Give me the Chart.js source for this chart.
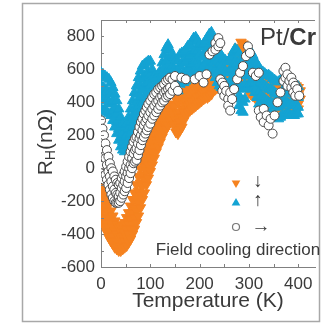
<!DOCTYPE html>
<html>
<head>
<meta charset="utf-8">
<script src="https://cdn.jsdelivr.net/npm/chart.js@4.4.0/dist/chart.umd.min.js"></script>
<style>
  html, body { margin: 0; padding: 0; background: #fff; }
  canvas { display: block; }
</style>
</head>
<body>
<canvas id="c" width="322" height="324"></canvas>
<script>
// Hall resistance R_H (nΩ) vs temperature (K) for Pt/Cr.
// Each temperature carries a small cluster of readings (the bands are noisy).

const xTicks = [0, 100, 200, 300, 400];
const yTicks = [-600, -400, -200, 0, 200, 400, 600, 800];

// field cooling ↓ (orange, down triangles)
const downT = [0,4,8,12,16,20,24,28,32,36,40,44,48,52,56,60,64,68,72,76,80,84,88,92,96,100,104,108,112,116,120,124,128,132,136,140,144,148,152,156,160,164,168,172,176,180,184,188,192,196,200,204,208,212,216,220,224,228,232,236,240,244,248,252,256,260,264,268,272,276,280,284,288,292,296,300,304,308,312,316,320,324,328,332,336,340,344,348,352,356,360,364,368,372,376,380,384,388,392,396,400,404];
const downV = [
  [-70,-150,-230,-300],[-110,-190,-260,-330],[-150,-230,-300,-360],[-190,-260,-330,-390],[-220,-300,-360,-420],[-260,-330,-390,-440],[-290,-360,-410,-460],[-320,-380,-440,-480],[-340,-400,-450,-490],[-360,-420,-460,-500],
  [-360,-420,-470,-500],[-350,-410,-460,-490],[-330,-390,-440,-480],[-300,-370,-420,-470],[-270,-340,-400,-450],[-230,-310,-370,-430],[-190,-270,-340,-400],[-150,-240,-300,-370],[-100,-190,-260,-330],[-50,-140,-210,-290],
  [0,-90,-160,-240],[50,-40,-110,-190],[100,10,-70,-150],[140,50,-20,-100],[180,90,20,-60],[210,130,60,-20],[250,160,100,20],[280,200,130,60],[310,230,170,100],[340,260,200,130],
  [360,290,230,160],[390,310,250,190],[400,330,280,220],[420,350,300,240],[440,370,320,260],[450,380,340,280],[460,390,350,290],[450,380,320,260],[420,340,290,220],[400,330,270,210],
  [410,340,280,230],[430,360,310,250],[450,390,340,290],[470,410,360,320],[490,430,380,340],[500,440,390,350],[510,450,400,360],[515,460,410,370],[525,470,420,380],[535,480,430,390],
  [550,490,440,400],[560,500,450,410],[570,510,460,420],[580,520,470,430],[590,530,480,430],[600,540,490,440],[615,550,500,450],[630,570,510,470],[640,580,520,480],[645,590,530,490],
  [650,590,540,490],[650,590,540,490],[640,580,530,490],[630,570,520,480],[630,570,520,480],[640,580,530,490],[660,600,550,500],[680,620,560,510],[690,630,570,520],[705,640,580,530],
  [735,670,600,550],[765,690,620,570],[755,680,610,560],[720,650,580,520],[665,600,540,490],[630,570,510,460],[605,550,490,450],[590,530,480,440],[580,520,470,430],[570,510,460,420],
  [560,500,450,410],[550,490,440,400],[535,480,430,390],[530,470,420,390],[540,480,430,390],[545,490,440,400],[540,480,430,390],[530,470,420,390],[530,470,420,380],[520,460,410,380],
  [520,460,410,370],[520,460,410,370],[525,460,410,380],[530,470,420,380],[530,470,420,380],[520,460,410,380],[520,460,410,370],[510,450,400,370],[510,450,400,360],[500,440,390,360],
  [490,440,390,360],[470,420]
];

// field cooling ↑ (blue, up triangles)
const upT = [0,4,8,12,16,20,24,28,32,36,40,44,48,52,56,60,64,68,72,76,80,84,88,92,96,100,104,108,112,116,120,124,128,132,136,140,144,148,152,156,160,164,168,172,176,180,184,188,192,196,200,204,208,212,216,220,224,228,232,236,240,244,248,252,256,260,264,268,272,276,280,284,288,292,296,300,304,308,312,316,320,324,328,332,336,340,344,348,352,356,360,364,368,372,376,380,384,388,392,396,400];
const upV = [
  [580,500,430,360],[570,490,420,350],[560,480,420,350],[550,470,410,340],[540,460,400,330],[520,450,390,320],[490,410,350,290],[450,370,320,250],[410,330,280,210],[360,290,240,170],
  [310,250,190,130],[270,210,160,110],[250,190,140,100],[270,200,150,110],[310,240,170,120],[360,280,210,140],[410,320,250,170],[460,360,290,200],[500,400,330,240],[550,450,380,290],
  [590,500,430,350],[620,540,470,400],[630,560,500,430],[640,570,510,450],[650,580,520,450],[650,570,500,440],[600,540,470,410],[560,500,440,380],[550,490,430,370],[570,500,440,380],
  [590,530,460,410],[640,570,500,450],[690,610,550,490],[730,650,580,530],[750,670,600,540],[720,650,580,530],[690,620,550,500],[670,600,530,480],[660,590,530,470],[650,590,520,470],
  [690,620,560,510],[700,640,570,520],[705,640,580,520],[720,650,590,530],[740,670,600,550],[750,680,620,560],[770,700,630,570],[790,710,650,590],[795,720,660,600],[775,710,650,590],
  [755,690,620,570],[735,670,610,560],[755,690,620,570],[775,700,640,580],[795,720,660,600],[815,740,670,610],[825,740,660,600],[775,710,640,580],[735,670,600,550],[715,650,580,520],
  [695,630,560,500],[685,620,550,490],[665,600,540,480],[655,590,520,460],[645,580,510,450],[655,580,510,440],[675,600,530,470],[705,630,560,490],[725,650,580,510],[715,640,570,500],
  [695,610,520,440,380],[665,590,500,420,350],[655,570,480,400,340],[675,600,510,420],[695,630,560,490],[715,640,570,510],[705,640,570,510],[685,610,540,480],[655,590,520,460],[635,560,490,430],
  [615,540,460,390],[595,520,440,370],[585,510,430,360],[575,500,420,350],[565,490,410,340],[565,480,400,330],[555,480,400,330],[545,470,390,320],[535,460,380,320],[525,450,380,310],
  [525,440,370,300],[535,450,380,310],[545,470,390,320],[555,480,400,320],[555,480,400,330],[545,470,390,330],[535,460,390,320],[525,450,380,320],[515,450,380,320],[505,440,380,330],
  [495,430,370,330]
];

// field cooling → (open circles)
const ringT = [0,3,6,9,12,15,18,21,24,27,30,33,36,39,42,45,48,51,54,57,60,63,66,69,72,75,78,81,84,87,90,93,96,100,104,108,112,116,120,124,128,132,136,140,145,150,156,163,172,190,200,208,214,220,226,232,238,242,246,250,254,258,262,266,270,276,282,288,294,298,302,308,314,320,324,330,336,340,344,348,352,358,364,370,374,378,382,386,390,394,398,402];
const ringV = [
  [290,210,130,50,-30],[240,160,70,-50],[200,110,20,-70],[150,60,-40],[110,20,-70],[70,-20,-100],[30,-50,-130],[0,-80,-160],[-20,-110,-180],[-50,-130,-200],
  [-70,-150,-210],[-90,-160,-210],[-100,-170,-210],[-90,-150,-200],[-60,-120,-180],[-40,-100,-160],[-20,-80,-140],[10,-50,-120],[40,-30,-90],[70,0,-60],
  [100,20,-30],[130,60,0],[160,90,30],[180,110,40],[190,120,50],[220,150,80],[250,180,110],[280,200,140],[300,230,170],[330,260,190],
  [350,280,210],[370,300,230],[390,320,250],[410,340,270],[430,360,300],[450,380,320],[460,400,340],[480,410,360],[490,430,380],[500,440,400],
  [510,460,410],[530,470,430],[540,480,440],[550,490,450],[540,470],[560,500],[470],[550],[540],[540],
  [560],[520],[570],[690],[710],[760,720],[790,740],[760,540],[520,470],[500,440],
  [470],[420,380],[350,460],[420],[480],[540],[580],[620],[680],[740],
  [700],[580],[560],[580,350],[310],[360,280],[320],[260],[300],[210],
  [320],[400],[460],[530,590],[610,550],[570,500],[530],[490,550],[460,520],[440,500],
  [480],[440]
];

const ORANGE = "#f5821f";
const BLUE = "#14a3d3";
const INK = "#3a3a3a";
const FONT = "'Liberation Sans', Arial, sans-serif";

function toPoints(ts, vs) {
    const pts = [];
    ts.forEach((t, i) => (vs[i] || []).forEach(v => pts.push({ x: t, y: v })));
    return pts;
}

function tri(ctx, x, y, r, down) {
    const s = down ? -1 : 1;
    ctx.beginPath();
    ctx.moveTo(x, y - s * r);
    ctx.lineTo(x + r * 0.866, y + s * r * 0.5);
    ctx.lineTo(x - r * 0.866, y + s * r * 0.5);
    ctx.closePath();
    ctx.fill();
}

// frame, inward ticks, y title (with subscript), sample label and legend
const decor = {
    id: "decor",
    afterDraw(chart) {
        const { ctx, chartArea: a, scales: { x, y } } = chart;
        ctx.save();

        ctx.strokeStyle = "#a8a8a8";
        ctx.lineWidth = 1.5;
        ctx.strokeRect(22.5, 3.5, 297, 318);

        ctx.strokeStyle = "#808080";
        ctx.lineWidth = 1;
        ctx.beginPath();
        ctx.moveTo(a.left, a.top + 0.5);
        ctx.lineTo(a.right, a.top + 0.5);
        for (let t = 50; t < x.max; t += 50) {
            const px = Math.round(x.getPixelForValue(t)) + 0.5;
            ctx.moveTo(px, a.bottom); ctx.lineTo(px, a.bottom - 3);
            ctx.moveTo(px, a.top); ctx.lineTo(px, a.top + 3);
        }
        for (let v = -500; v < y.max; v += 100) {
            const py = Math.round(y.getPixelForValue(v)) + 0.5;
            ctx.moveTo(a.left, py); ctx.lineTo(a.left + 3, py);
        }
        ctx.stroke();

        // y title: R_H(nΩ)
        ctx.fillStyle = INK;
        ctx.translate(46, 142);
        ctx.rotate(-Math.PI / 2);
        ctx.textBaseline = "middle";
        const big = "21px " + FONT, small = "14px " + FONT;
        ctx.font = big;
        const wR = ctx.measureText("R").width, wP = ctx.measureText("(nΩ)").width;
        ctx.font = small;
        const wH = ctx.measureText("H").width;
        let cx = -(wR + wH + wP) / 2;
        ctx.textAlign = "left";
        ctx.font = big; ctx.fillText("R", cx, 0); cx += wR;
        ctx.font = small; ctx.fillText("H", cx, 5); cx += wH;
        ctx.font = big; ctx.fillText("(nΩ)", cx, 0);
        ctx.setTransform(1, 0, 0, 1, 0, 0);

        // Pt/Cr
        ctx.textBaseline = "middle";
        ctx.textAlign = "left";
        ctx.font = "bold 24px " + FONT;
        const wCr = ctx.measureText("Cr").width;
        ctx.font = "24px " + FONT;
        const wPt = ctx.measureText("Pt/").width;
        const left = 316 - wCr - wPt;
        ctx.fillText("Pt/", left, 38);
        ctx.font = "bold 24px " + FONT;
        ctx.fillText("Cr", left + wPt, 38);

        // legend
        ctx.fillStyle = ORANGE;
        tri(ctx, 236, 183, 5, true);
        ctx.fillStyle = BLUE;
        tri(ctx, 236, 203, 5, false);
        ctx.beginPath();
        ctx.arc(236, 227, 3.5, 0, Math.PI * 2);
        ctx.strokeStyle = "#777";
        ctx.lineWidth = 1.2;
        ctx.stroke();

        ctx.fillStyle = INK;
        ctx.textAlign = "center";
        ctx.font = "19px " + FONT;
        ctx.fillText("↓", 258, 182);
        ctx.fillText("↑", 258, 201);
        ctx.fillText("→", 261, 227);
        ctx.font = "17px " + FONT;
        ctx.fillText("Field cooling direction", 238, 250);
        ctx.restore();
    }
};

new Chart(document.getElementById("c"), {
    type: "scatter",
    data: {
        datasets: [
            {
                label: "→", data: toPoints(ringT, ringV), order: 1,
                pointStyle: "circle", pointRadius: 4.5, borderWidth: 1,
                borderColor: "#4a4a4a", backgroundColor: "#ffffff"
            },
            {
                label: "↑", data: toPoints(upT, upV), order: 2,
                pointStyle: "triangle", pointRadius: 6, borderWidth: 1,
                borderColor: BLUE, backgroundColor: BLUE
            },
            {
                label: "↓", data: toPoints(downT, downV), order: 3,
                pointStyle: "triangle", rotation: 180, pointRadius: 6, borderWidth: 1,
                borderColor: ORANGE, backgroundColor: ORANGE
            }
        ]
    },
    options: {
        responsive: false,
        animation: false,
        layout: { padding: { left: 0, top: 20, right: 2, bottom: 0 } },
        plugins: { legend: { display: false }, tooltip: { enabled: false } },
        scales: {
            x: {
                type: "linear", min: 0, max: 434,
                afterBuildTicks: s => { s.ticks = xTicks.map(v => ({ value: v })); },
                afterFit: s => { s.height = 57; },
                grid: { display: false, drawTicks: false },
                border: { display: true, color: "#808080", width: 1 },
                ticks: { color: INK, font: { family: FONT, size: 17 }, padding: 7, maxRotation: 0 },
                title: {
                    display: true, text: "Temperature (K)", color: INK,
                    font: { family: FONT, size: 21 }, padding: { top: 0, bottom: 10 }
                }
            },
            y: {
                type: "linear", min: -600, max: 900,
                afterBuildTicks: s => { s.ticks = yTicks.map(v => ({ value: v })); },
                afterFit: s => { s.width = 101; },
                grid: { display: false, drawTicks: false },
                border: { display: true, color: "#808080", width: 1 },
                ticks: { color: INK, font: { family: FONT, size: 17 }, padding: 6 }
            }
        }
    },
    plugins: [decor]
});
</script>
</body>
</html>
